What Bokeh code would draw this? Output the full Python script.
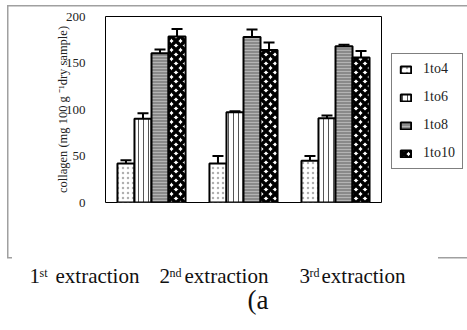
from bokeh.plotting import figure
from bokeh.models import (FactorRange, Range1d, ColumnDataSource, Whisker, TeeHead,
                          Legend, LegendItem, Label, FixedTicker)
from bokeh.transform import dodge
from bokeh.embed import file_html
from bokeh.resources import INLINE

# ---- data ----
extractions = ["1st", "2nd", "3rd"]
series = ["1to4", "1to6", "1to8", "1to10"]
v_1to4 = [42, 42, 45]
e_1to4 = [3.5, 8, 5]
v_1to6 = [90, 97, 90.5]
e_1to6 = [6, 1, 3]
v_1to8 = [160.5, 178, 168]
e_1to8 = [4, 8, 1.5]
v_1to10 = [178.5, 164, 156]
e_1to10 = [8, 8, 7]
y_ticks = [0, 50, 100, 150, 200]
x_numbers = ["1", "2", "3"]
x_sups = ["st", "nd", "rd"]
x_word = "extraction"
panel_tag = "(a"
y_title = "collagen (mg 100 g \u207b\u00b9dry sample)"

values = [v_1to4, v_1to6, v_1to8, v_1to10]
errors = [e_1to4, e_1to6, e_1to8, e_1to10]

FONT = "Liberation Serif"
GREY = "#a0a0a0"

p = figure(x_range=FactorRange(*extractions), y_range=Range1d(0, 200),
           frame_width=276, frame_height=186,
           min_border_left=105, min_border_right=86, min_border_top=16, min_border_bottom=128,
           output_backend="svg", toolbar_location=None)
p.background_fill_color = "white"
p.border_fill_color = None
g = f"linear-gradient({GREY},{GREY})"
p.styles = {
    "background-color": "white",
    "background-image": ", ".join([g] * 4),
    "background-repeat": "no-repeat",
    "background-position": "7px 5px, 7px 5px, 7px 257px, 438px 257px",
    "background-size": "460px 1.5px, 1.5px 253px, 5px 1.5px, 30px 1.5px",
}
p.outline_line_color = "black"
p.outline_line_width = 1
p.xgrid.visible = False
p.ygrid.visible = False
p.xaxis.visible = False

ya = p.yaxis[0]
ya.ticker = FixedTicker(ticks=y_ticks)
ya.major_tick_line_color = None
ya.minor_tick_line_color = None
ya.axis_line_color = None
ya.major_label_standoff = 14
ya.major_label_text_font = FONT
ya.major_label_text_font_size = "13px"
ya.major_label_text_color = "#222222"
ya.axis_label = y_title
ya.axis_label_text_font = FONT
ya.axis_label_text_font_size = "12.5px"
ya.axis_label_text_font_style = "normal"
ya.axis_label_text_color = "#222222"
ya.axis_label_standoff = -7

offsets = [-0.2775, -0.0925, 0.0925, 0.2775]
width = 0.185
styles = [
    dict(fill_color="white", hatch_pattern="dot", hatch_color="#b0b0b0", hatch_scale=5, hatch_weight=1.5),
    dict(fill_color="white", hatch_pattern="vertical_line", hatch_color="#555555", hatch_scale=5, hatch_weight=1),
    dict(fill_color="#8a8a8a", hatch_pattern="horizontal_line", hatch_color="#b4b4b4", hatch_scale=3, hatch_weight=1),
    dict(fill_color="white", hatch_pattern="diagonal_cross", hatch_color="black", hatch_scale=9, hatch_weight=3.5),
]

items = []
for name, vals, errs, off, st in zip(series, values, errors, offsets, styles):
    src = ColumnDataSource(dict(x=extractions, top=vals,
                                upper=[v + e for v, e in zip(vals, errs)],
                                lower=[v - e for v, e in zip(vals, errs)]))
    r = p.vbar(x=dodge("x", off, range=p.x_range), top="top", width=width, source=src,
               line_color="black", line_width=2, **st)
    items.append(LegendItem(label=name, renderers=[r]))
    w = Whisker(base=dodge("x", off, range=p.x_range), upper="upper", lower="lower", source=src,
                dimension="height", line_color="black", line_width=2,
                upper_head=TeeHead(size=11, line_width=2, line_color="black"),
                lower_head=TeeHead(size=11, line_width=2, line_color="black"))
    p.add_layout(w)

legend = Legend(items=items, location=(10, 33), border_line_color="black", border_line_width=1,
                background_fill_color="white", padding=7, spacing=12, margin=10,
                glyph_width=13, glyph_height=9, label_height=14, label_standoff=11,
                label_text_font=FONT, label_text_font_size="14px", label_text_color="#222222")
p.add_layout(legend, "right")

num_x = [29, 159, 299]
sup_x = [39, 169, 309]
word_x = [55, 184, 321]
for nx, sx, wx, n, s in zip(num_x, sup_x, word_x, x_numbers, x_sups):
    p.add_layout(Label(x=nx, y=275, x_units="canvas", y_units="canvas", text=n,
                       text_font=FONT, text_font_size="21px", text_color="#111111",
                       text_baseline="alphabetic"), "below")
    p.add_layout(Label(x=sx, y=272, x_units="canvas", y_units="canvas", text=s,
                       text_font=FONT, text_font_size="12px", text_color="#111111",
                       text_baseline="alphabetic"), "below")
    p.add_layout(Label(x=wx, y=275, x_units="canvas", y_units="canvas", text=x_word,
                       text_font=FONT, text_font_size="21px", text_color="#111111",
                       text_baseline="alphabetic"), "below")

p.add_layout(Label(x=247, y=299, x_units="canvas", y_units="canvas", text=panel_tag,
                   text_font=FONT, text_font_size="27px", text_color="#111111",
                   text_baseline="alphabetic"), "below")

open("out.html", "w").write(file_html(p, INLINE))
